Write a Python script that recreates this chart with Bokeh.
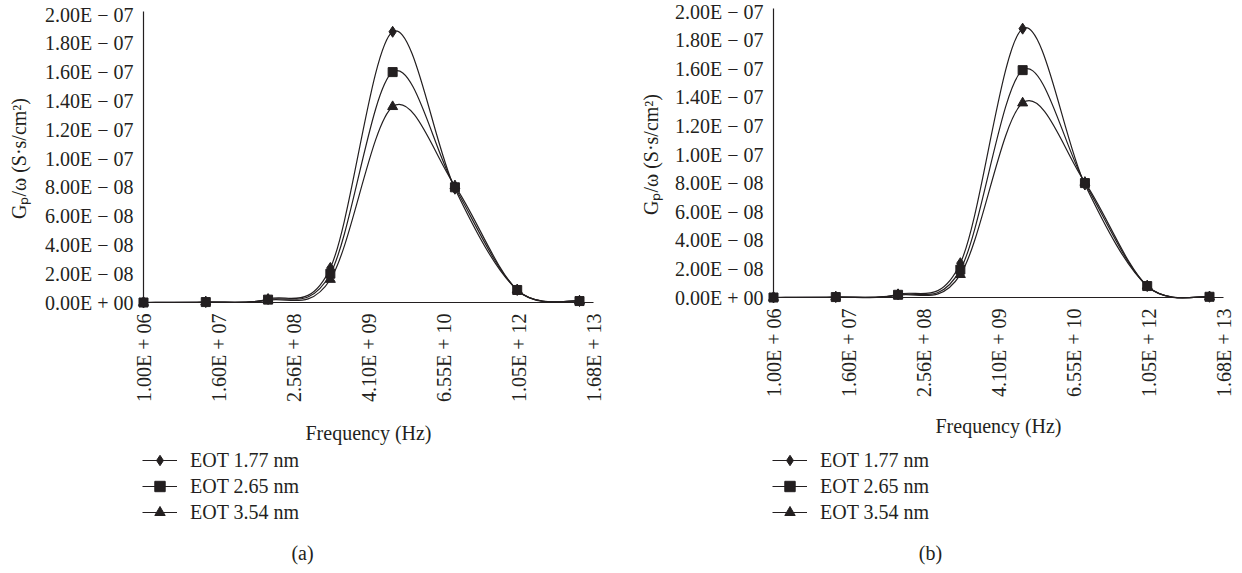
import math
from bokeh.plotting import figure
from bokeh.layouts import row
from bokeh.models import Legend, LegendItem, Label, Range1d
from bokeh.core.properties import value
from bokeh.embed import file_html
from bokeh.resources import INLINE

# ---------------- data ----------------
freq_hz = [1e6, 1e7, 1e8, 1e9, 1e10, 1e11, 1e12, 1e13]
series_names = ["EOT 1.77 nm", "EOT 2.65 nm", "EOT 3.54 nm"]

a_eot_177 = [0.0, 3e-10, 2.4e-9, 2.4e-8, 1.88e-7, 7.9e-8, 8.7e-9, 1.0e-9]
a_eot_265 = [0.0, 3e-10, 2.0e-9, 2.0e-8, 1.60e-7, 8.0e-8, 8.7e-9, 1.0e-9]
a_eot_354 = [0.0, 3e-10, 1.6e-9, 1.6e-8, 1.36e-7, 8.1e-8, 8.7e-9, 1.0e-9]

b_eot_177 = [0.0, 3e-10, 2.2e-9, 2.4e-8, 1.88e-7, 7.9e-8, 8.0e-9, 5e-10]
b_eot_265 = [0.0, 3e-10, 1.9e-9, 1.95e-8, 1.59e-7, 8.0e-8, 8.0e-9, 5e-10]
b_eot_354 = [0.0, 3e-10, 1.6e-9, 1.6e-8, 1.36e-7, 8.05e-8, 8.0e-9, 5e-10]

x_tick_values = [1e6, 1.6e7, 2.56e8, 4.096e9, 6.5536e10, 1.048576e12, 1.6777216e13]
x_tick_labels = ["1.00E + 06", "1.60E + 07", "2.56E + 08", "4.10E + 09",
                 "6.55E + 10", "1.05E + 12", "1.68E + 13"]
y_tick_values = [0.0, 2e-8, 4e-8, 6e-8, 8e-8, 1e-7, 1.2e-7, 1.4e-7, 1.6e-7, 1.8e-7, 2e-7]
y_tick_labels = ["0.00E + 00", "2.00E − 08", "4.00E − 08", "6.00E − 08", "8.00E − 08",
                 "1.00E − 07", "1.20E − 07", "1.40E − 07", "1.60E − 07", "1.80E − 07",
                 "2.00E − 07"]

x_title = "Frequency (Hz)"
y_title = "Gₚ/ω (S·s/cm²)"
panel_tags = ["(a)", "(b)"]

INK = "#231f20"
FONT = "Liberation Serif"
FS = "20px"
markers = ["diamond", "square", "triangle"]
marker_sizes = [11, 9, 10]
W, H = 621, 573
NAN = float("nan")


def bezier_cols(xs, ys):
    lx = [math.log10(v) for v in xs]
    n = len(lx)
    cols = {k: [] for k in ("x0", "y0", "x1", "y1", "cx0", "cy0", "cx1", "cy1")}
    for i in range(n - 1):
        ip, inx = max(i - 1, 0), min(i + 2, n - 1)
        c0x = lx[i] + (lx[i + 1] - lx[ip]) / 6.0
        c0y = ys[i] + (ys[i + 1] - ys[ip]) / 6.0
        c1x = lx[i + 1] - (lx[inx] - lx[i]) / 6.0
        c1y = ys[i + 1] - (ys[inx] - ys[i]) / 6.0
        cols["x0"].append(10 ** lx[i]); cols["y0"].append(ys[i])
        cols["x1"].append(10 ** lx[i + 1]); cols["y1"].append(ys[i + 1])
        cols["cx0"].append(10 ** c0x); cols["cy0"].append(c0y)
        cols["cx1"].append(10 ** c1x); cols["cy1"].append(c1y)
    return cols


def make_panel(series, tag, ax_left, ax_right, zero_y, top_y, xlab_off, ylab_off, tag_x):
    lo = math.log10(x_tick_values[0])
    hi = math.log10(x_tick_values[-1])
    px_per_dec = (ax_right - ax_left) / (hi - lo)
    x_start = 10 ** (lo - ax_left / px_per_dec)
    x_end = 10 ** (hi + (W - ax_right) / px_per_dec)
    u = y_tick_values[-1] / (zero_y - top_y)
    y_start = -(H - zero_y) * u
    y_end = y_tick_values[-1] + top_y * u

    p = figure(width=W, height=H, x_axis_type="log",
               x_range=Range1d(x_start, x_end), y_range=Range1d(y_start, y_end),
               output_backend="svg", toolbar_location=None,
               min_border=0)
    p.axis.visible = False
    p.outline_line_color = None
    p.xgrid.visible = False
    p.ygrid.visible = False
    p.background_fill_color = "white"
    p.border_fill_color = "white"

    # axis lines
    p.segment(x0=[x_tick_values[0], x_tick_values[0]], y0=[y_tick_values[0], y_tick_values[0]],
              x1=[x_tick_values[-1], x_tick_values[0]], y1=[y_tick_values[0], y_tick_values[-1] + 3 * u],
              line_color=INK, line_width=1.2)

    # tick labels
    p.text(x=[x_tick_values[0]] * len(y_tick_values), y=y_tick_values, text=y_tick_labels,
           text_align="right", text_baseline="middle", x_offset=-10,
           text_font=value(FONT), text_font_size=FS, text_color=INK)
    p.text(x=x_tick_values, y=[y_tick_values[0]] * len(x_tick_values), text=x_tick_labels,
           angle=math.pi / 2, text_align="right", text_baseline="middle", y_offset=11,
           text_font=value(FONT), text_font_size=FS, text_color=INK)
    # axis titles
    p.text(x=[10 ** ((lo + hi) / 2)], y=[y_tick_values[0]], text=[x_title],
           text_align="center", text_baseline="middle", y_offset=xlab_off,
           text_font=value(FONT), text_font_size=FS, text_color=INK)
    p.text(x=[x_tick_values[0]], y=[y_tick_values[-1] / 2], text=[y_title],
           angle=math.pi / 2, text_align="center", text_baseline="middle", x_offset=ylab_off,
           text_font=value(FONT), text_font_size=FS, text_color=INK)

    items = []
    scatter_rs = []
    for name, ys, mk, ms in zip(series_names, series, markers, marker_sizes):
        p.bezier(source=bezier_cols(freq_hz, ys), x0="x0", y0="y0", x1="x1", y1="y1",
                 cx0="cx0", cy0="cy0", cx1="cx1", cy1="cy1",
                 line_color=INK, line_width=1.2)
        leg_line = p.line(x=[NAN], y=[NAN], line_color=INK, line_width=1.2)
        sr = p.scatter(x=freq_hz, y=ys, marker=mk, size=ms,
                       fill_color=INK, line_color=INK)
        scatter_rs.append(sr)
        items.append(LegendItem(label=name, renderers=[leg_line, sr]))
    p.renderers.remove(scatter_rs[1])
    p.renderers.append(scatter_rs[1])

    legend = Legend(items=items, location=(ax_left - 1, 48),
                    orientation="vertical", padding=0, margin=0, spacing=0,
                    glyph_width=35, glyph_height=26, label_height=26,
                    label_standoff=13, border_line_color=None,
                    background_fill_alpha=0,
                    label_text_font=FONT, label_text_font_size=FS,
                    label_text_color=INK)
    p.add_layout(legend, "center")

    lab = Label(x=tag_x, y=H - 552, x_units="screen", y_units="screen", text=tag,
                text_align="center", text_baseline="middle",
                text_font=FONT, text_font_size=FS, text_color=INK)
    p.add_layout(lab)
    return p


left = make_panel([a_eot_177, a_eot_265, a_eot_354], panel_tags[0],
                  ax_left=143, ax_right=593, zero_y=302, top_y=14,
                  xlab_off=130, ylab_off=-125, tag_x=302)
right = make_panel([b_eot_177, b_eot_265, b_eot_354], panel_tags[1],
                   ax_left=152, ax_right=602, zero_y=297, top_y=11,
                   xlab_off=128, ylab_off=-123, tag_x=930 - 621)

layout = row(left, right)
open("out.html", "w").write(file_html(layout, INLINE))
